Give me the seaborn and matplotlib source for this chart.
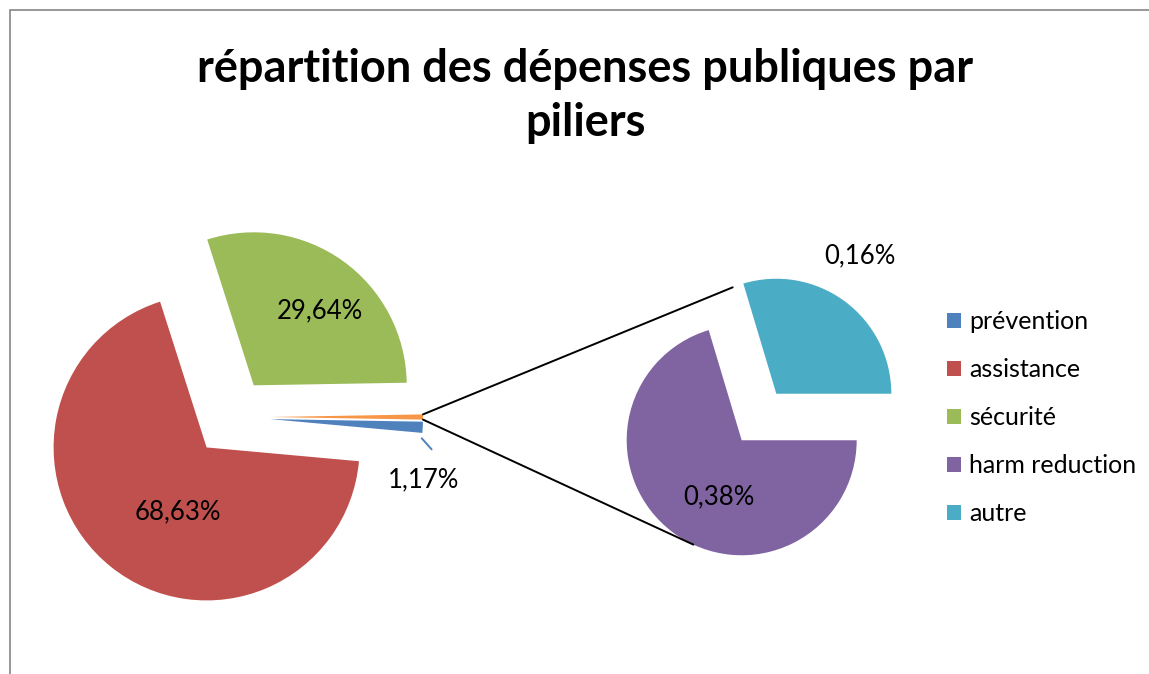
import numpy as np
import matplotlib
matplotlib.use("Agg")
import matplotlib.pyplot as plt
import seaborn as sns
from matplotlib.patches import Rectangle


TITLE = "répartition des dépenses publiques par\npiliers"

# main pie: the three pillars + the grouped "other" slice
pillar_labels = ["prévention", "assistance", "sécurité"]
pillar_values = [1.17, 68.63, 29.64]

# secondary pie (details of the grouped slice)
sub_labels = ["harm reduction", "autre"]
sub_values = [0.38, 0.16]

pillar_colors = ["#4F81BD", "#C0504D", "#9BBB59"]
other_color = "#F79646"
sub_colors = ["#8064A2", "#4BACC6"]


def fmt(v):
    return f"{v:.2f}%".replace(".", ",")


def polar(wedge, frac, angle):
    """Point at frac * radius and angle (deg) from a wedge's centre."""
    a = np.deg2rad(angle)
    cx, cy = wedge.center
    return cx + frac * wedge.r * np.cos(a), cy + frac * wedge.r * np.sin(a)


def tangent_point(wedge, p, upper=True):
    """Tangent point on a wedge's circle seen from point p."""
    cx, cy = wedge.center
    dx, dy = p[0] - cx, p[1] - cy
    d = np.hypot(dx, dy)
    phi = np.arctan2(dy, dx)
    alpha = np.arccos(wedge.r / d)
    a = phi - alpha if upper else phi + alpha
    return cx + wedge.r * np.cos(a), cy + wedge.r * np.sin(a)


sns.set_theme(style="white")
plt.rcParams["font.family"] = ["Lato", "DejaVu Sans"]
plt.rcParams["text.color"] = "black"

fig = plt.figure(figsize=(11.49, 6.74), dpi=100)
ax = fig.add_axes([0, 0, 1, 1])

main_values = pillar_values + [sum(sub_values)]
main_colors = sns.color_palette(pillar_colors + [other_color])
start = -sum(sub_values) / sum(main_values) * 360 / 2

main_wedges, _ = ax.pie(
    main_values,
    colors=main_colors,
    explode=[39] * len(main_values),
    center=(231, 257),
    radius=153,
    startangle=start,
    counterclock=False,
    wedgeprops=dict(linewidth=0),
)

sub_wedges, _ = ax.pie(
    sub_values,
    colors=sns.color_palette(sub_colors),
    explode=[29] * len(sub_values),
    center=(759, 257),
    radius=115,
    startangle=0,
    counterclock=False,
    wedgeprops=dict(linewidth=0),
)

ax.set_xlim(0, 1149)
ax.set_ylim(0, 674)
ax.set_aspect("equal")
ax.axis("off")

# connector lines from the grouped slice to the secondary pie
other = main_wedges[-1]
top = polar(other, 1.0, other.theta2)
bottom = polar(other, 1.0, other.theta1)
t_end = tangent_point(sub_wedges[1], top, upper=True)
b_end = tangent_point(sub_wedges[0], bottom, upper=False)
ax.plot([top[0], t_end[0]], [top[1], t_end[1]], color="black", lw=1.4)
ax.plot([bottom[0], b_end[0]], [bottom[1], b_end[1]], color="black", lw=1.4)

# data labels (distance as fraction of radius, angle in degrees)
label_spots = [(1.08, -21.6), (0.46, 245.6), (0.65, 48.4)]
for w, v, (f, a) in zip(main_wedges, pillar_values, label_spots):
    x, y = polar(w, f, a)
    ax.text(x, y, fmt(v), ha="center", va="center", fontsize=18.5)

# leader line for the small prévention slice
p0 = polar(main_wedges[0], 1.0, -7.2)
p1 = polar(main_wedges[0], 1.075, -10.6)
ax.plot([p0[0], p1[0]], [p0[1], p1[1]], color=pillar_colors[0], lw=1.4)

sub_spots = [(0.53, 248), (1.4, 58.7)]
for w, v, (f, a) in zip(sub_wedges, sub_values, sub_spots):
    x, y = polar(w, f, a)
    ax.text(x, y, fmt(v), ha="center", va="center", fontsize=18.5)

ax.text(585, 578, TITLE, ha="center", va="center", fontsize=32.5,
        fontweight="bold", linespacing=1.36)

handles = list(main_wedges[:3]) + list(sub_wedges)
labels = pillar_labels + sub_labels
ax.legend(handles, labels, loc="center left", bbox_to_anchor=(0.805, 0.38),
          frameon=False, fontsize=18, handlelength=0.56, handleheight=0.56,
          handletextpad=0.3, labelspacing=1.0)

# chart area border
ax.add_patch(Rectangle((10, -20), 1300, 684, fill=False,
                       edgecolor="#868686", lw=1.2, clip_on=True))

fig.savefig("out.png", dpi=100)
plt.close(fig)
